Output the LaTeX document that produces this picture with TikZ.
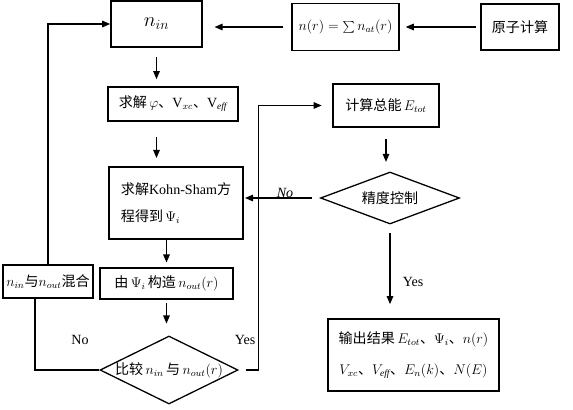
\documentclass[tikz,border=0pt]{standalone}
\usepackage{fontspec}
\setmainfont{Liberation Serif}
\newfontfamily\cjk{Noto Sans CJK SC}
\newcommand{\zh}[1]{{\cjk #1}}
\usetikzlibrary{shapes.geometric,arrows.meta}

\begin{document}
\begin{tikzpicture}[x=0.03cm,y=-0.03cm,
        box/.style={draw,line width=1.2pt,inner sep=2pt},
        dia/.style={draw,diamond,line width=1.1pt,inner sep=0pt},
        line/.style={line width=1.4pt},
        arr/.style={line,-{Triangle[length=7pt,width=5.5pt]}},
        every node/.style={font=\fontsize{12}{15}\selectfont}]
        \useasboundingbox (0,0) rectangle (573,409);
        \path (156.5,24) node [box,minimum width=2.73cm,minimum height=1.38cm] (nin) {\LARGE$n_{in}$};
        \path (345.5,27) node [box,minimum width=3.21cm,minimum height=1.41cm] (nr) {$n(r)=\textstyle\sum n_{at}(r)$};
        \path (520,27) node [box,minimum width=2.34cm,minimum height=1.38cm] (atom) {\zh{原子计算}};
        \path (173,104) node [box,minimum width=3.9cm,minimum height=1.02cm] (solve) {\zh{求解}\,$\varphi$\zh{、}V$_{xc}$\zh{、}V$_{\mathit{eff}}$};
        \path (176,203) node [box,minimum width=4.02cm,minimum height=2.16cm,align=left,font=\fontsize{12}{23}\selectfont] (ks) {\zh{求解}Kohn-Sham\zh{方}\\\zh{程得到}\,$\Psi_i$};
        \path (48,281.5) node [box,minimum width=2.7cm,minimum height=0.99cm] (mix) {$n_{in}$\zh{与}$n_{out}$\zh{混合}};
        \path (166.5,283.5) node [box,minimum width=3.99cm,minimum height=0.93cm] (cons) {\zh{由}\,$\Psi_i$\,\zh{构造}\,$n_{out}(r)$};
        \path (169,370) node [dia,minimum width=4.14cm,minimum height=2.04cm,label=center:{\zh{比较}\,$n_{in}$\,\zh{与}\,$n_{out}(r)$}] (cmp) {};
        \path (386,105.5) node [box,minimum width=3.18cm,minimum height=1.29cm] (etot) {\zh{计算总能}\,$E_{tot}$};
        \path (390,198) node [dia,minimum width=4.17cm,minimum height=1.56cm,label=center:{\zh{精度控制}}] (prec) {};
        \path (413.5,355) node [box,minimum width=5.13cm,minimum height=2.16cm,align=center,font=\fontsize{12}{27}\selectfont] (out) {\zh{输出结果}\,$E_{tot}$\zh{、}$\Psi_i$\zh{、}$n(r)$\\$V_{xc}$\zh{、}$V_{\mathit{eff}}$\zh{、}$E_n(k)$\zh{、}$N(E)$};
        \draw [arr,shorten <=4pt,shorten >=5pt] (atom.west) -- (atom.west -| nr.east);
        \draw [arr,shorten <=7pt,shorten >=10pt] (nr.west) -- (nr.west -| nin.east);
        \draw [arr,shorten <=8pt,shorten >=6pt] (nin.south) -- (nin.south |- solve.north);
        \draw [arr,shorten <=13pt,shorten >=7pt] (nin.south |- solve.south) -- (nin.south |- ks.north);
        \draw [arr,shorten >=4pt] (cons.north |- ks.south) -- (cons.north);
        \draw [arr,shorten <=3pt,shorten >=10pt] (cons.south) -- (cons.south |- cmp.north);
        \draw [line] (cmp.west) -| ([xshift=-0.39cm]mix.south);
        \draw [arr] (mix.north) |- (nin.west);
        \draw [arr,shorten <=6pt,shorten >=9pt] (cmp.east) -- ++(20,0) |- (etot.west);
        \draw [arr,shorten <=10pt,shorten >=8pt] (etot.south) -- (etot.south |- prec.north);
        \draw [arr,shorten <=7pt,shorten >=1pt] (prec.west) -- (prec.west -| ks.east);
        \draw [arr,shorten <=7pt,shorten >=12pt] (prec.south) -- (prec.south |- out.north);
        \path (80,340) node (lno) {No};
        \path (245,340) node (lyes) {Yes};
        \path (285,193) node (pno) {\textit{No}};
        \path (413,282) node (pyes) {Yes};
    \end{tikzpicture}
\end{document}
